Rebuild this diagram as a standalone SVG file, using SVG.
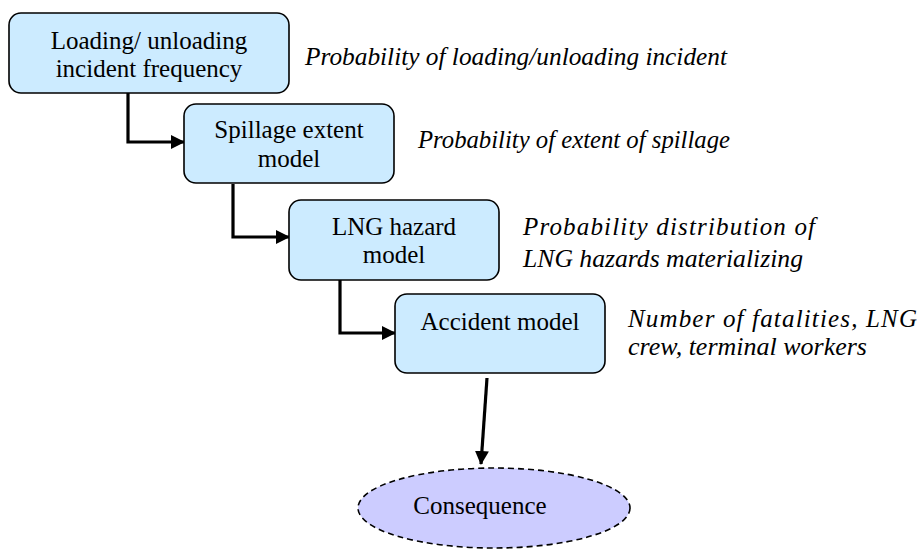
<svg xmlns="http://www.w3.org/2000/svg" width="919" height="552" viewBox="0 0 919 552">
  <defs>
    <style>
      .box { fill: #CCEBFF; stroke: #000; stroke-width: 1.6; }
      .end { fill: #CCCCFF; stroke: #000; stroke-width: 1.6; stroke-dasharray: 6 4; }
      .lbl { font-family: "Liberation Serif", "Times New Roman", serif; font-size: 25px; fill: #000; text-anchor: middle; }
      .note { font-family: "Liberation Serif", "Times New Roman", serif; font-size: 25px; font-style: italic; fill: #000; }
      .flow { fill: none; stroke: #000; stroke-width: 3.2; marker-end: url(#head); }
    </style>
    <marker id="head" viewBox="0 0 14 14" refX="13" refY="7" markerWidth="14" markerHeight="14" orient="auto" markerUnits="userSpaceOnUse">
      <path d="M0,0 L14,7 L0,14 Z" fill="#000"/>
    </marker>
  </defs>

  <g id="connectors">
    <path class="flow" d="M128,93 V142 H184"/>
    <path class="flow" d="M233,184 V237 H289"/>
    <path class="flow" d="M340,280 V333 H395"/>
    <path class="flow" d="M487,378 L481,464"/>
  </g>

  <g id="frequency">
    <rect class="box" x="9" y="13" width="280" height="80" rx="12"/>
    <text class="lbl" x="149" y="49">Loading/ unloading</text>
    <text class="lbl" x="149" y="77">incident frequency</text>
  </g>

  <g id="spillage">
    <rect class="box" x="184" y="104" width="210" height="79" rx="12"/>
    <text class="lbl" x="289" y="138">Spillage extent</text>
    <text class="lbl" x="289" y="167">model</text>
  </g>

  <g id="hazard">
    <rect class="box" x="289" y="200" width="210" height="80" rx="12"/>
    <text class="lbl" x="394" y="235">LNG hazard</text>
    <text class="lbl" x="394" y="263">model</text>
  </g>

  <g id="accident">
    <rect class="box" x="395" y="294" width="210" height="79" rx="12"/>
    <text class="lbl" x="500" y="330">Accident model</text>
  </g>

  <g id="consequence">
    <ellipse class="end" cx="494" cy="508" rx="136" ry="40"/>
    <text class="lbl" x="480" y="514">Consequence</text>
  </g>

  <g id="notes">
    <text class="note" x="305" y="65" textLength="422" lengthAdjust="spacingAndGlyphs">Probability of loading/unloading incident</text>
    <text class="note" x="418" y="148" textLength="312" lengthAdjust="spacingAndGlyphs">Probability of extent of spillage</text>
    <text class="note" x="523" y="235" textLength="292" lengthAdjust="spacing">Probability distribution of</text>
    <text class="note" x="523" y="267" textLength="280" lengthAdjust="spacingAndGlyphs">LNG hazards materializing</text>
    <text class="note" x="628" y="327" textLength="289" lengthAdjust="spacing">Number of fatalities, LNG</text>
    <text class="note" x="628" y="355" textLength="239" lengthAdjust="spacingAndGlyphs">crew, terminal workers</text>
  </g>
</svg>
